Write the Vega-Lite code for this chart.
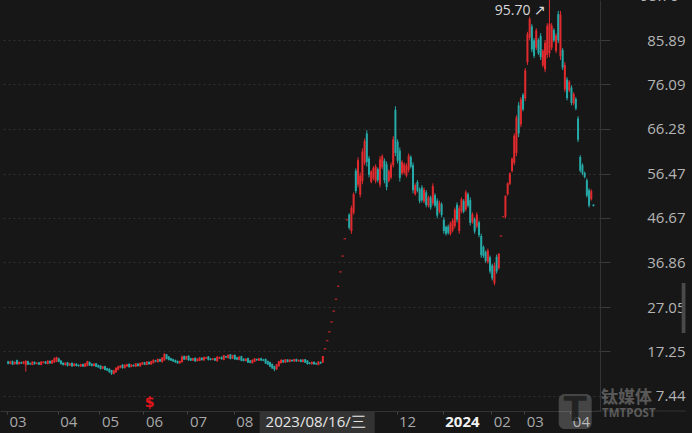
{
"$schema":"https://vega.github.io/schema/vega-lite/v6.json",
"width":600,"height":411,
"autosize":{"type":"none"},
"padding":{"left":0,"top":0,"right":92,"bottom":22},
"background":"#171717",
"config":{"view":{"stroke":null},"font":"Open Sans"},
"datasets":{"k":[
{"i":0,"o":15.05,"h":15.2,"l":14.4,"c":14.55},{"i":1,"o":14.55,"h":15.2,"l":14.45,"c":15.05},{"i":2,"o":15.12,"h":15.25,"l":14.25,"c":14.38},{"i":3,"o":14.45,"h":15.05,"l":14.35,"c":14.95},{"i":4,"o":15.35,"h":15.45,"l":14.35,"c":14.45},{"i":5,"o":14.45,"h":15.05,"l":14.35,"c":14.95},{"i":6,"o":14.9,"h":15.0,"l":14.5,"c":14.6},{"i":7,"o":14.55,"h":15.15,"l":14.45,"c":15.05},{"i":8,"o":14.2,"h":15.3,"l":12.8,"c":15.2},{"i":9,"o":15.12,"h":15.2,"l":14.3,"c":14.38},
{"i":10,"o":14.68,"h":14.8,"l":14.3,"c":14.42},{"i":11,"o":14.28,"h":15.1,"l":14.2,"c":15.02},{"i":12,"o":14.95,"h":15.05,"l":14.35,"c":14.45},{"i":13,"o":14.53,"h":14.9,"l":14.4,"c":14.78},{"i":14,"o":14.85,"h":14.95,"l":14.25,"c":14.35},{"i":15,"o":14.28,"h":15.1,"l":14.2,"c":15.02},{"i":16,"o":14.72,"h":15.1,"l":14.6,"c":14.98},{"i":17,"o":15.05,"h":15.15,"l":14.45,"c":14.55},{"i":18,"o":14.48,"h":15.3,"l":14.4,"c":15.22},{"i":19,"o":15.15,"h":15.25,"l":14.55,"c":14.65},
{"i":20,"o":14.58,"h":15.4,"l":14.5,"c":15.32},{"i":21,"o":14.85,"h":15.95,"l":14.75,"c":15.75},{"i":22,"o":15.0,"h":16.1,"l":14.9,"c":16.0},{"i":23,"o":15.73,"h":15.85,"l":14.85,"c":14.97},{"i":24,"o":15.23,"h":15.35,"l":14.35,"c":14.48},{"i":25,"o":14.75,"h":14.85,"l":14.15,"c":14.25},{"i":26,"o":14.25,"h":14.85,"l":14.15,"c":14.75},{"i":27,"o":14.83,"h":14.95,"l":13.95,"c":14.08},{"i":28,"o":14.15,"h":14.75,"l":14.05,"c":14.65},{"i":29,"o":14.73,"h":14.85,"l":13.85,"c":13.98},
{"i":30,"o":14.05,"h":14.65,"l":13.95,"c":14.55},{"i":31,"o":14.55,"h":14.65,"l":13.95,"c":14.05},{"i":32,"o":14.28,"h":14.4,"l":13.9,"c":14.02},{"i":33,"o":13.95,"h":14.55,"l":13.85,"c":14.45},{"i":34,"o":14.45,"h":14.55,"l":13.85,"c":13.95},{"i":35,"o":13.88,"h":14.7,"l":13.8,"c":14.62},{"i":36,"o":14.1,"h":15.2,"l":14.0,"c":15.1},{"i":37,"o":14.93,"h":15.05,"l":14.05,"c":14.18},{"i":38,"o":14.55,"h":14.65,"l":13.95,"c":14.05},{"i":39,"o":14.05,"h":14.65,"l":13.95,"c":14.55},
{"i":40,"o":14.62,"h":14.7,"l":13.8,"c":13.88},{"i":41,"o":14.25,"h":14.35,"l":13.65,"c":13.75},{"i":42,"o":14.13,"h":14.2,"l":13.3,"c":13.38},{"i":43,"o":13.45,"h":14.05,"l":13.35,"c":13.95},{"i":44,"o":14.0,"h":14.1,"l":13.1,"c":13.2},{"i":45,"o":13.55,"h":13.65,"l":12.95,"c":13.05},{"i":46,"o":13.43,"h":13.55,"l":12.55,"c":12.68},{"i":47,"o":13.13,"h":13.2,"l":12.1,"c":12.38},{"i":48,"o":12.3,"h":13.2,"l":12.2,"c":13.1},{"i":49,"o":12.65,"h":13.75,"l":12.55,"c":13.65},
{"i":50,"o":13.2,"h":14.1,"l":13.1,"c":14.0},{"i":51,"o":13.65,"h":14.25,"l":13.55,"c":14.15},{"i":52,"o":14.33,"h":14.45,"l":13.45,"c":13.58},{"i":53,"o":13.58,"h":14.4,"l":13.5,"c":14.33},{"i":54,"o":13.95,"h":14.55,"l":13.85,"c":14.45},{"i":55,"o":14.53,"h":14.6,"l":13.7,"c":13.78},{"i":56,"o":13.85,"h":14.45,"l":13.75,"c":14.35},{"i":57,"o":14.28,"h":14.4,"l":13.9,"c":14.02},{"i":58,"o":13.88,"h":14.7,"l":13.8,"c":14.62},{"i":59,"o":14.55,"h":14.65,"l":13.95,"c":14.05},
{"i":60,"o":13.98,"h":14.8,"l":13.9,"c":14.72},{"i":61,"o":14.35,"h":14.95,"l":14.25,"c":14.85},{"i":62,"o":14.85,"h":14.95,"l":14.25,"c":14.35},{"i":63,"o":14.28,"h":15.1,"l":14.2,"c":15.02},{"i":64,"o":14.95,"h":15.05,"l":14.35,"c":14.45},{"i":65,"o":14.38,"h":15.2,"l":14.3,"c":15.12},{"i":66,"o":14.68,"h":15.5,"l":14.6,"c":15.42},{"i":67,"o":15.28,"h":15.4,"l":14.9,"c":15.02},{"i":68,"o":14.88,"h":15.7,"l":14.8,"c":15.62},{"i":69,"o":15.55,"h":15.65,"l":14.95,"c":15.05},
{"i":70,"o":14.9,"h":16.0,"l":14.8,"c":15.9},{"i":71,"o":15.3,"h":16.9,"l":15.2,"c":16.7},{"i":72,"o":16.6,"h":16.7,"l":15.5,"c":15.6},{"i":73,"o":16.13,"h":16.25,"l":15.25,"c":15.38},{"i":74,"o":15.75,"h":15.85,"l":15.15,"c":15.25},{"i":75,"o":15.55,"h":15.65,"l":14.95,"c":15.05},{"i":76,"o":15.35,"h":15.45,"l":14.75,"c":14.85},{"i":77,"o":15.15,"h":15.25,"l":14.55,"c":14.65},{"i":78,"o":14.65,"h":15.25,"l":14.55,"c":15.15},{"i":79,"o":14.9,"h":16.4,"l":14.8,"c":16.1},
{"i":80,"o":16.23,"h":16.35,"l":15.35,"c":15.48},{"i":81,"o":15.48,"h":16.3,"l":15.4,"c":16.23},{"i":82,"o":16.3,"h":16.4,"l":15.2,"c":15.3},{"i":83,"o":15.75,"h":15.85,"l":15.15,"c":15.25},{"i":84,"o":15.25,"h":15.85,"l":15.15,"c":15.75},{"i":85,"o":15.83,"h":15.95,"l":14.95,"c":15.08},{"i":86,"o":15.15,"h":15.75,"l":15.05,"c":15.65},{"i":87,"o":15.18,"h":16.0,"l":15.1,"c":15.92},{"i":88,"o":15.85,"h":15.95,"l":15.25,"c":15.35},{"i":89,"o":15.28,"h":16.1,"l":15.2,"c":16.02},
{"i":90,"o":15.72,"h":16.1,"l":15.6,"c":15.98},{"i":91,"o":16.13,"h":16.25,"l":15.25,"c":15.38},{"i":92,"o":15.68,"h":15.8,"l":15.3,"c":15.42},{"i":93,"o":15.42,"h":15.8,"l":15.3,"c":15.68},{"i":94,"o":15.75,"h":15.85,"l":15.15,"c":15.25},{"i":95,"o":15.1,"h":16.2,"l":15.0,"c":16.1},{"i":96,"o":15.72,"h":16.1,"l":15.6,"c":15.98},{"i":97,"o":16.05,"h":16.15,"l":15.45,"c":15.55},{"i":98,"o":15.4,"h":16.5,"l":15.3,"c":16.4},{"i":99,"o":16.18,"h":16.3,"l":15.8,"c":15.92},
{"i":100,"o":15.78,"h":16.6,"l":15.7,"c":16.52},{"i":101,"o":16.6,"h":16.7,"l":15.5,"c":15.6},{"i":102,"o":15.68,"h":16.5,"l":15.6,"c":16.42},{"i":103,"o":16.5,"h":16.6,"l":15.4,"c":15.5},{"i":104,"o":15.95,"h":16.05,"l":15.35,"c":15.45},{"i":105,"o":15.38,"h":16.2,"l":15.3,"c":16.12},{"i":106,"o":16.2,"h":16.3,"l":15.1,"c":15.2},{"i":107,"o":15.65,"h":15.75,"l":15.05,"c":15.15},{"i":108,"o":15.15,"h":15.75,"l":15.05,"c":15.65},{"i":109,"o":15.8,"h":15.9,"l":14.7,"c":14.8},
{"i":110,"o":15.25,"h":15.35,"l":14.65,"c":14.75},{"i":111,"o":14.68,"h":15.5,"l":14.6,"c":15.42},{"i":112,"o":14.98,"h":15.8,"l":14.9,"c":15.72},{"i":113,"o":15.58,"h":15.7,"l":15.2,"c":15.32},{"i":114,"o":15.25,"h":15.85,"l":15.15,"c":15.75},{"i":115,"o":15.75,"h":15.85,"l":15.15,"c":15.25},{"i":116,"o":15.48,"h":15.6,"l":15.1,"c":15.22},{"i":117,"o":15.6,"h":15.7,"l":14.5,"c":14.6},{"i":118,"o":15.13,"h":15.25,"l":14.25,"c":14.38},{"i":119,"o":14.9,"h":15.0,"l":13.8,"c":13.9},
{"i":120,"o":14.5,"h":14.6,"l":13.4,"c":13.5},{"i":121,"o":14.03,"h":14.1,"l":12.9,"c":13.28},{"i":122,"o":13.3,"h":14.5,"l":13.2,"c":14.4},{"i":123,"o":14.0,"h":15.2,"l":13.9,"c":15.1},{"i":124,"o":14.68,"h":15.5,"l":14.6,"c":15.42},{"i":125,"o":15.35,"h":15.45,"l":14.75,"c":14.85},{"i":126,"o":14.78,"h":15.6,"l":14.7,"c":15.52},{"i":127,"o":15.45,"h":15.55,"l":14.85,"c":14.95},{"i":128,"o":14.95,"h":15.55,"l":14.85,"c":15.45},{"i":129,"o":15.38,"h":15.5,"l":15.0,"c":15.12},
{"i":130,"o":15.05,"h":15.65,"l":14.95,"c":15.55},{"i":131,"o":15.55,"h":15.65,"l":14.95,"c":15.05},{"i":132,"o":15.12,"h":15.5,"l":15.0,"c":15.38},{"i":133,"o":15.45,"h":15.55,"l":14.85,"c":14.95},{"i":134,"o":14.95,"h":15.55,"l":14.85,"c":15.45},{"i":135,"o":15.53,"h":15.6,"l":14.7,"c":14.78},{"i":136,"o":15.23,"h":15.35,"l":14.35,"c":14.48},{"i":137,"o":14.78,"h":14.9,"l":14.4,"c":14.52},{"i":138,"o":14.45,"h":15.05,"l":14.35,"c":14.95},{"i":139,"o":14.95,"h":15.05,"l":14.35,"c":14.45},
{"i":140,"o":14.68,"h":14.8,"l":14.3,"c":14.42},{"i":141,"o":14.28,"h":15.1,"l":14.2,"c":15.02},{"i":142,"o":14.95,"h":15.05,"l":14.5,"c":14.6},{"i":143,"o":14.8,"h":16.23,"l":14.7,"c":16.23},
{"i":144,"o":17.85,"h":17.85,"l":17.85,"c":17.85},{"i":145,"o":19.64,"h":19.64,"l":19.64,"c":19.64},{"i":146,"o":21.6,"h":21.6,"l":21.6,"c":21.6},{"i":147,"o":23.76,"h":23.76,"l":23.76,"c":23.76},{"i":148,"o":26.14,"h":26.14,"l":26.14,"c":26.14},{"i":149,"o":28.75,"h":28.75,"l":28.75,"c":28.75},{"i":150,"o":31.63,"h":31.63,"l":31.63,"c":31.63},{"i":151,"o":34.79,"h":34.79,"l":34.79,"c":34.79},{"i":152,"o":38.27,"h":38.27,"l":38.27,"c":38.27},{"i":153,"o":42.1,"h":42.1,"l":42.1,"c":42.1},{"i":154,"o":46.31,"h":46.31,"l":46.31,"c":46.31},
{"i":155,"o":47.4,"h":47.7,"l":44.1,"c":44.5},{"i":156,"o":43.8,"h":49.4,"l":43.2,"c":48.9},{"i":157,"o":47.8,"h":52.3,"l":47.4,"c":51.9},{"i":158,"o":57.1,"h":57.6,"l":52.1,"c":52.6},{"i":159,"o":54.0,"h":60.0,"l":53.4,"c":59.4},
{"i":160,"o":51.8,"h":56.7,"l":51.2,"c":56.0},{"i":161,"o":54.8,"h":62.0,"l":54.1,"c":61.3},{"i":162,"o":58.8,"h":64.2,"l":58.3,"c":63.6},{"i":163,"o":65.3,"h":66.0,"l":58.0,"c":59.0},{"i":164,"o":59.8,"h":60.3,"l":55.6,"c":56.2},{"i":165,"o":54.6,"h":57.2,"l":54.3,"c":56.9},{"i":166,"o":55.4,"h":58.1,"l":55.0,"c":57.7},{"i":167,"o":54.8,"h":58.5,"l":54.3,"c":58.0},{"i":168,"o":57.4,"h":57.8,"l":54.5,"c":55.0},{"i":169,"o":54.0,"h":60.3,"l":53.4,"c":59.6},
{"i":170,"o":57.8,"h":60.7,"l":57.4,"c":60.3},{"i":171,"o":59.3,"h":59.8,"l":54.3,"c":55.0},{"i":172,"o":58.5,"h":59.1,"l":52.8,"c":53.5},{"i":173,"o":54.8,"h":57.4,"l":54.5,"c":57.0},{"i":174,"o":55.6,"h":58.9,"l":55.2,"c":58.4},{"i":175,"o":58.3,"h":64.7,"l":57.8,"c":64.0},{"i":176,"o":70.5,"h":71.3,"l":60.3,"c":61.0},{"i":177,"o":63.5,"h":64.0,"l":58.7,"c":59.3},{"i":178,"o":61.5,"h":62.2,"l":54.7,"c":55.5},{"i":179,"o":56.5,"h":59.4,"l":56.1,"c":59.0},
{"i":180,"o":56.7,"h":58.9,"l":56.3,"c":58.5},{"i":181,"o":56.0,"h":58.7,"l":55.6,"c":58.2},{"i":182,"o":57.2,"h":60.9,"l":56.7,"c":60.4},{"i":183,"o":60.1,"h":60.5,"l":57.6,"c":58.0},{"i":184,"o":58.3,"h":58.9,"l":52.1,"c":52.8},{"i":185,"o":51.9,"h":54.3,"l":51.6,"c":53.9},{"i":186,"o":54.6,"h":55.0,"l":52.3,"c":52.7},{"i":187,"o":53.0,"h":53.4,"l":49.9,"c":50.4},{"i":188,"o":53.4,"h":53.9,"l":50.1,"c":50.6},{"i":189,"o":50.3,"h":53.4,"l":49.9,"c":52.9},
{"i":190,"o":52.3,"h":52.8,"l":49.0,"c":49.5},{"i":191,"o":49.4,"h":51.6,"l":49.0,"c":51.2},{"i":192,"o":51.2,"h":51.6,"l":48.5,"c":49.0},{"i":193,"o":49.9,"h":54.3,"l":49.4,"c":53.7},{"i":194,"o":51.7,"h":52.1,"l":49.0,"c":49.4},{"i":195,"o":50.5,"h":51.0,"l":46.6,"c":47.2},{"i":196,"o":48.1,"h":50.5,"l":47.7,"c":50.0},{"i":197,"o":49.7,"h":50.1,"l":46.8,"c":47.3},{"i":198,"o":46.3,"h":46.8,"l":43.2,"c":43.8},{"i":199,"o":44.7,"h":45.0,"l":42.8,"c":43.2},
{"i":200,"o":44.8,"h":45.2,"l":43.0,"c":43.4},{"i":201,"o":43.2,"h":45.9,"l":42.8,"c":45.5},{"i":202,"o":43.9,"h":46.6,"l":43.5,"c":46.1},{"i":203,"o":44.9,"h":49.0,"l":44.4,"c":48.5},{"i":204,"o":49.6,"h":50.1,"l":45.7,"c":46.3},{"i":205,"o":43.8,"h":49.4,"l":43.2,"c":48.8},{"i":206,"o":48.1,"h":51.2,"l":47.7,"c":50.8},{"i":207,"o":50.4,"h":50.8,"l":47.7,"c":48.1},{"i":208,"o":48.6,"h":52.8,"l":48.1,"c":52.3},{"i":209,"o":51.9,"h":52.3,"l":49.0,"c":49.4},
{"i":210,"o":50.6,"h":51.2,"l":45.0,"c":45.6},{"i":211,"o":45.7,"h":47.9,"l":45.4,"c":47.5},{"i":212,"o":46.4,"h":46.8,"l":43.2,"c":43.7},{"i":213,"o":44.8,"h":47.9,"l":44.4,"c":47.4},{"i":214,"o":45.7,"h":46.1,"l":42.4,"c":42.9},{"i":215,"o":42.7,"h":43.2,"l":37.9,"c":38.5},{"i":216,"o":40.3,"h":40.6,"l":37.9,"c":38.3},{"i":217,"o":39.2,"h":39.5,"l":36.8,"c":37.2},{"i":218,"o":37.0,"h":39.9,"l":36.6,"c":39.5},{"i":219,"o":38.0,"h":38.4,"l":34.4,"c":34.9},
{"i":220,"o":36.2,"h":36.6,"l":32.9,"c":33.4},{"i":221,"o":32.3,"h":36.8,"l":31.8,"c":36.2},{"i":222,"o":38.1,"h":38.6,"l":34.4,"c":34.9},{"i":223,"o":35.6,"h":38.9,"l":35.3,"c":38.8},{"i":224,"o":42.68,"h":42.68,"l":42.68,"c":42.68},{"i":225,"o":46.95,"h":46.95,"l":46.95,"c":46.95},{"i":226,"o":47.0,"h":51.6,"l":46.6,"c":51.6},{"i":227,"o":51.9,"h":54.5,"l":51.6,"c":54.3},{"i":228,"o":54.2,"h":56.7,"l":53.9,"c":56.5},{"i":229,"o":57.0,"h":60.0,"l":56.7,"c":59.7},
{"i":230,"o":58.8,"h":65.3,"l":58.3,"c":64.8},{"i":231,"o":61.0,"h":69.3,"l":60.3,"c":68.8},{"i":232,"o":71.5,"h":72.2,"l":64.5,"c":65.3},{"i":233,"o":67.3,"h":73.3,"l":66.7,"c":72.8},{"i":234,"o":73.8,"h":74.2,"l":70.2,"c":70.6},{"i":235,"o":73.0,"h":79.7,"l":72.4,"c":79.2},{"i":236,"o":81.0,"h":87.7,"l":80.4,"c":87.2},{"i":237,"o":86.4,"h":91.0,"l":85.9,"c":90.5},{"i":238,"o":88.9,"h":89.4,"l":83.2,"c":83.8},{"i":239,"o":85.8,"h":86.3,"l":81.9,"c":82.4},
{"i":240,"o":84.2,"h":88.5,"l":83.7,"c":88.0},{"i":241,"o":85.9,"h":86.3,"l":82.6,"c":83.0},{"i":242,"o":86.8,"h":87.4,"l":81.5,"c":82.1},{"i":243,"o":80.3,"h":83.9,"l":79.9,"c":83.5},{"i":244,"o":79.4,"h":85.9,"l":78.8,"c":85.3},{"i":245,"o":82.6,"h":89.6,"l":81.9,"c":89.0},{"i":246,"o":83.0,"h":95.7,"l":82.1,"c":89.5},{"i":247,"o":84.2,"h":89.6,"l":83.7,"c":89.1},{"i":248,"o":88.1,"h":88.5,"l":85.4,"c":85.8},{"i":249,"o":83.5,"h":87.4,"l":83.0,"c":86.9},
{"i":250,"o":91.6,"h":92.3,"l":85.2,"c":85.8},{"i":251,"o":82.3,"h":92.3,"l":81.5,"c":91.5},{"i":252,"o":83.7,"h":84.1,"l":79.3,"c":79.8},{"i":253,"o":75.0,"h":81.0,"l":74.4,"c":80.4},{"i":254,"o":77.2,"h":77.7,"l":72.6,"c":73.1},{"i":255,"o":74.8,"h":77.1,"l":74.4,"c":76.7},{"i":256,"o":75.4,"h":75.9,"l":71.5,"c":72.0},{"i":257,"o":71.9,"h":74.4,"l":71.5,"c":74.0},{"i":258,"o":72.9,"h":73.3,"l":70.4,"c":70.8},{"i":259,"o":68.6,"h":69.1,"l":63.4,"c":63.9},
{"i":260,"o":60.1,"h":60.5,"l":56.7,"c":57.1},{"i":261,"o":58.3,"h":58.7,"l":56.1,"c":56.5},{"i":262,"o":56.6,"h":56.9,"l":55.4,"c":55.7},{"i":263,"o":55.0,"h":55.4,"l":51.2,"c":51.6},{"i":264,"o":52.8,"h":53.2,"l":49.0,"c":49.4},{"i":265,"o":50.8,"h":53.0,"l":50.5,"c":52.6},{"i":266,"o":49.6,"h":49.7,"l":49.2,"c":49.3}
]},
"layer":[
{"data":{"name":"k"},"mark":{"type":"rule","strokeWidth":1},
 "encoding":{
  "x":{"field":"i","type":"quantitative","scale":{"domain":[-1.43,266.7],"nice":false,"zero":false},
   "axis":{"title":null,"grid":false,"values":[-0.5,22.5,41.5,61.5,81.5,102.5,176.5,197.5,219.5,234.5,255.5],
    "labelExpr":"datum.value < 0 ? '03' : datum.value < 30 ? '04' : datum.value < 50 ? '05' : datum.value < 70 ? '06' : datum.value < 90 ? '07' : datum.value < 150 ? '08' : datum.value < 190 ? '12' : datum.value < 210 ? '2024' : datum.value < 225 ? '02' : datum.value < 245 ? '03' : '04'",
    "labelAlign":"left","labelOffset":2,"labelBaseline":"middle","labelPadding":7.5,"tickSize":3,"tickColor":"#444444","domainColor":"#333333",
    "labelColor":{"condition":{"test":"datum.value == 197.5","value":"#f2f2f2"},"value":"#a8a8a8"},
    "labelFontWeight":{"condition":{"test":"datum.value == 197.5","value":"bold"},"value":"normal"},
    "labelFontSize":15,"labelFont":"Open Sans","labelOverlap":false,"labelFlush":false,"labelBound":false}},
  "y":{"field":"l","type":"quantitative","scale":{"domain":[4.13,94.71],"nice":false,"zero":false},
   "axis":{"title":null,"orient":"right","values":[7.44,17.25,27.05,36.86,46.67,56.47,66.28,76.09,85.89],"format":".2f",
    "grid":true,"gridColor":"#313131","gridDash":[2,3],"domainColor":"#333333","tickColor":"#3a3a3a","tickSize":10,
    "labelAlign":"right","labelPadding":75,"labelBaseline":"middle","labelColor":"#b5b5b5","labelFontSize":15,"labelFont":"Open Sans","labelOverlap":false,"labelFlush":false}},
  "y2":{"field":"h"},
  "color":{"condition":{"test":"datum.c >= datum.o","value":"#e02a2e"},"value":"#26aaa8"}}},
{"data":{"name":"k"},"mark":{"type":"bar","size":2,"orient":"vertical"},
 "encoding":{
  "x":{"field":"i","type":"quantitative","title":null},
  "y":{"field":"o","type":"quantitative","title":null},
  "y2":{"field":"c"},
  "color":{"condition":{"test":"datum.c >= datum.o","value":"#e02a2e"},"value":"#26aaa8"}}},
{"data":{"name":"k"},"transform":[{"filter":"datum.o == datum.c"}],"mark":{"type":"tick","orient":"horizontal","size":2.5,"thickness":1.5,"color":"#e02a2e"},
 "encoding":{"x":{"field":"i","type":"quantitative","title":null},"y":{"field":"c","type":"quantitative","title":null}}},
{"data":{"values":[{"a":266.7,"b":308,"p":4.13}]},"mark":{"type":"rule","color":"#333333","strokeWidth":1},
 "encoding":{"x":{"field":"a","type":"quantitative","title":null},"x2":{"field":"b"},"y":{"field":"p","type":"quantitative","title":null}}},
{"data":{"values":[{"a":306.1,"b":307.8,"p1":32.34,"p2":21.32}]},"mark":{"type":"rect","color":"#4a4a4a"},
 "encoding":{"x":{"field":"a","type":"quantitative","title":null},"x2":{"field":"b"},"y":{"field":"p1","type":"quantitative","title":null},"y2":{"field":"p2"}}},
{"data":{"values":[{"a":114.3,"b":166.6,"p1":3.91,"p2":-0.72}]},"mark":{"type":"rect","color":"#333333"},
 "encoding":{"x":{"field":"a","type":"quantitative","title":null},"x2":{"field":"b"},"y":{"field":"p1","type":"quantitative","title":null},"y2":{"field":"p2"}}},
{"data":{"values":[{"a":117.0,"p":1.75,"t":"2023/08/16/三"}]},"mark":{"type":"text","align":"left","baseline":"middle","fontSize":15,"font":"Open Sans","color":"#e6e6e6"},
 "encoding":{"x":{"field":"a","type":"quantitative","title":null},"y":{"field":"p","type":"quantitative","title":null},"text":{"field":"t"}}},
{"data":{"values":[{"a":244.5,"p":92.2,"t":"95.70 ↗"}]},"mark":{"type":"text","align":"right","baseline":"middle","fontSize":14,"font":"Open Sans","color":"#d8d8d8"},
 "encoding":{"x":{"field":"a","type":"quantitative","title":null},"y":{"field":"p","type":"quantitative","title":null},"text":{"field":"t"}}},
{"data":{"values":[{"a":64.3,"p":6.0,"t":"$"}]},"mark":{"type":"text","align":"center","baseline":"middle","fontSize":14,"fontWeight":"bold","font":"DejaVu Sans","color":"#e8141c"},
 "encoding":{"x":{"field":"a","type":"quantitative","title":null},"y":{"field":"p","type":"quantitative","title":null},"text":{"field":"t"}}},
{"data":{"values":[{"a":304.7,"p":95.7,"t":"95.70"}]},"mark":{"type":"text","align":"right","baseline":"middle","fontSize":15,"font":"Open Sans","color":"#b5b5b5"},
 "encoding":{"x":{"field":"a","type":"quantitative","title":null},"y":{"field":"p","type":"quantitative","title":null},"text":{"field":"t"}}},
{"data":{"values":[{"a":250.2,"b":265.2,"p1":7.87,"p2":0.16}]},"mark":{"type":"rect","color":"#ffffff","opacity":0.2,"cornerRadius":6},
 "encoding":{"x":{"field":"a","type":"quantitative","title":null},"x2":{"field":"b"},"y":{"field":"p1","type":"quantitative","title":null},"y2":{"field":"p2"}}},
{"data":{"values":[{"a":257.7,"p":4.1,"t":"T"}]},"mark":{"type":"text","align":"center","baseline":"middle","fontSize":34,"fontWeight":"bold","font":"DejaVu Sans","color":"#171717","opacity":0.75},
 "encoding":{"x":{"field":"a","type":"quantitative","title":null},"y":{"field":"p","type":"quantitative","title":null},"text":{"field":"t"}}},
{"data":{"values":[{"a":269.4,"p":6.99,"t":"钛媒体"}]},"mark":{"type":"text","align":"left","baseline":"middle","fontSize":17,"fontWeight":"bold","font":"Noto Sans CJK SC","color":"#ffffff","opacity":0.28},
 "encoding":{"x":{"field":"a","type":"quantitative","title":null},"y":{"field":"p","type":"quantitative","title":null},"text":{"field":"t"}}},
{"data":{"values":[{"a":269.9,"p":3.47,"t":"TMTPOST"}]},"mark":{"type":"text","align":"left","baseline":"middle","fontSize":11.5,"fontWeight":"bold","font":"Open Sans","color":"#ffffff","opacity":0.28},
 "encoding":{"x":{"field":"a","type":"quantitative","title":null},"y":{"field":"p","type":"quantitative","title":null},"text":{"field":"t"}}}
]
}
